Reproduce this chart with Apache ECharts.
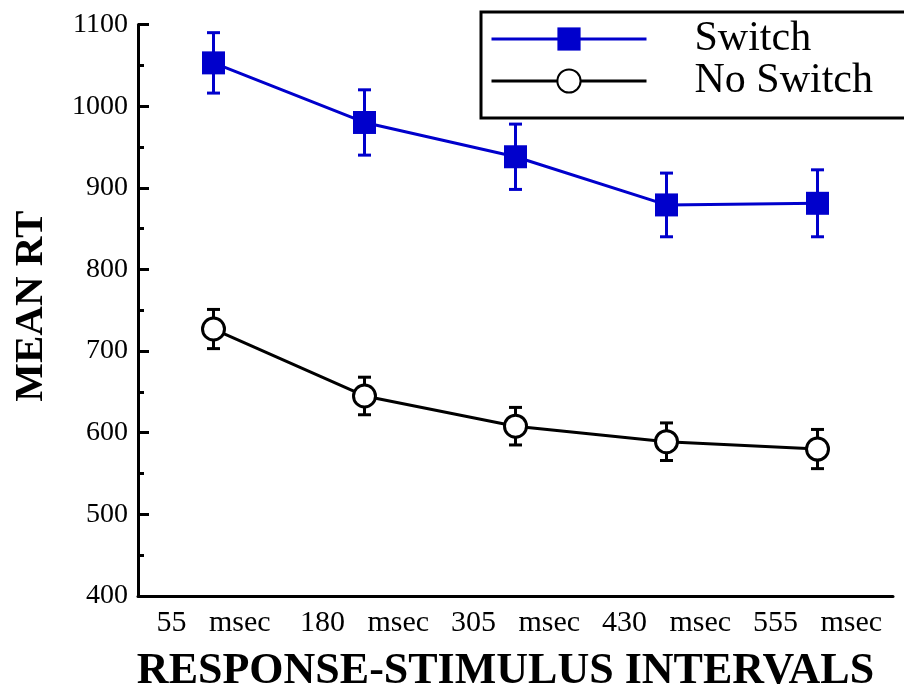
<!DOCTYPE html>
<html>
<head>
<meta charset="utf-8">
<script src="https://cdn.jsdelivr.net/npm/echarts@6/dist/echarts.min.js"></script>
<style>
html,body{margin:0;padding:0;background:#fff;}
#chart{width:904px;height:692px;}
</style>
</head>
<body>
<div id="chart"></div>
<script>
const categories = ['55   msec', '180   msec', '305   msec', '430   msec', '555   msec'];
const switchMean = [1053, 980, 938, 879, 881];
const switchErr = [37, 40, 40, 39, 41];
const noSwitchMean = [727, 645, 608, 589, 580];
const noSwitchErr = [24, 23, 23, 23, 24];
const yTicks = [400, 500, 600, 700, 800, 900, 1000, 1100];

const FONT = '"Liberation Serif", "Times New Roman", serif';
const BLUE = '#0000cc';

function errSeries(name, means, errs, color) {
  return {
    type: 'custom',
    name: name + ' err',
    z: 1,
    silent: true,
    data: means.map((m, i) => [i, m - errs[i], m + errs[i]]),
    renderItem: function (params, api) {
      const lo = api.coord([api.value(0), api.value(1)]);
      const hi = api.coord([api.value(0), api.value(2)]);
      const w = 6.5;
      const st = { stroke: color, lineWidth: 3 };
      return {
        type: 'group',
        children: [
          { type: 'line', shape: { x1: lo[0], y1: lo[1], x2: hi[0], y2: hi[1] }, style: st },
          { type: 'line', shape: { x1: lo[0] - w, y1: lo[1], x2: lo[0] + w, y2: lo[1] }, style: st },
          { type: 'line', shape: { x1: hi[0] - w, y1: hi[1], x2: hi[0] + w, y2: hi[1] }, style: st }
        ]
      };
    }
  };
}

const chart = echarts.init(document.getElementById('chart'), null, { renderer: 'canvas' });
chart.setOption({
  animation: false,
  backgroundColor: '#fff',
  grid: { left: 138, right: 11, top: 24.5, bottom: 96, containLabel: false, outerBoundsMode: 'none' },
  legend: {
    orient: 'vertical',
    left: 481,
    top: 12,
    data: ['Switch', 'No Switch'],
    itemWidth: 155,
    itemHeight: 29,
    itemGap: 0,
    padding: [6, 40, 16, 9],
    borderColor: '#000',
    borderWidth: 3,
    lineStyle: { width: 3 },
    textStyle: { fontFamily: FONT, fontSize: 42, color: '#000', lineHeight: 40, padding: [0, 0, 0, 43] }
  },
  xAxis: {
    type: 'category',
    data: categories,
    boundaryGap: true,
    axisLine: { lineStyle: { color: '#000', width: 3 } },
    axisTick: { inside: true, alignWithLabel: true, length: 10, lineStyle: { color: '#000', width: 3 } },
    axisLabel: { fontFamily: FONT, fontSize: 30, color: '#000', margin: 12, interval: 0 },
    splitLine: { show: false },
    name: 'RESPONSE-STIMULUS INTERVALS',
    nameLocation: 'middle',
    nameGap: 54,
    nameTextStyle: { fontFamily: FONT, fontSize: 44, fontWeight: 'bold', color: '#000', padding: [0, 20, 0, 0] }
  },
  yAxis: {
    type: 'value',
    min: yTicks[0],
    max: yTicks[yTicks.length - 1],
    interval: 100,
    axisLine: { show: true, lineStyle: { color: '#000', width: 3 } },
    axisTick: { show: true, inside: true, length: 11, lineStyle: { color: '#000', width: 3 } },
    minorTick: { show: true, splitNumber: 2, length: 6, lineStyle: { color: '#000', width: 3 } },
    axisLabel: { fontFamily: FONT, fontSize: 28, color: '#000', margin: 10, formatter: v => String(v) },
    splitLine: { show: false },
    name: 'MEAN RT',
    nameLocation: 'middle',
    nameGap: 86,
    nameTextStyle: { fontFamily: FONT, fontSize: 41, fontWeight: 'bold', color: '#000', padding: [0, 0, 0, 8] }
  },
  series: [
    errSeries('Switch', switchMean, switchErr, BLUE),
    errSeries('No Switch', noSwitchMean, noSwitchErr, '#000'),
    {
      name: 'Switch',
      type: 'line',
      z: 3,
      data: switchMean,
      symbol: 'rect',
      symbolSize: 23,
      showAllSymbol: true,
      lineStyle: { color: BLUE, width: 3 },
      itemStyle: { color: BLUE, borderWidth: 0 }
    },
    {
      name: 'No Switch',
      type: 'line',
      z: 3,
      data: noSwitchMean,
      symbol: 'circle',
      symbolSize: 22,
      showAllSymbol: true,
      lineStyle: { color: '#000', width: 3 },
      itemStyle: { color: '#fff', borderColor: '#000', borderWidth: 3 }
    }
  ]
});
</script>
</body>
</html>
